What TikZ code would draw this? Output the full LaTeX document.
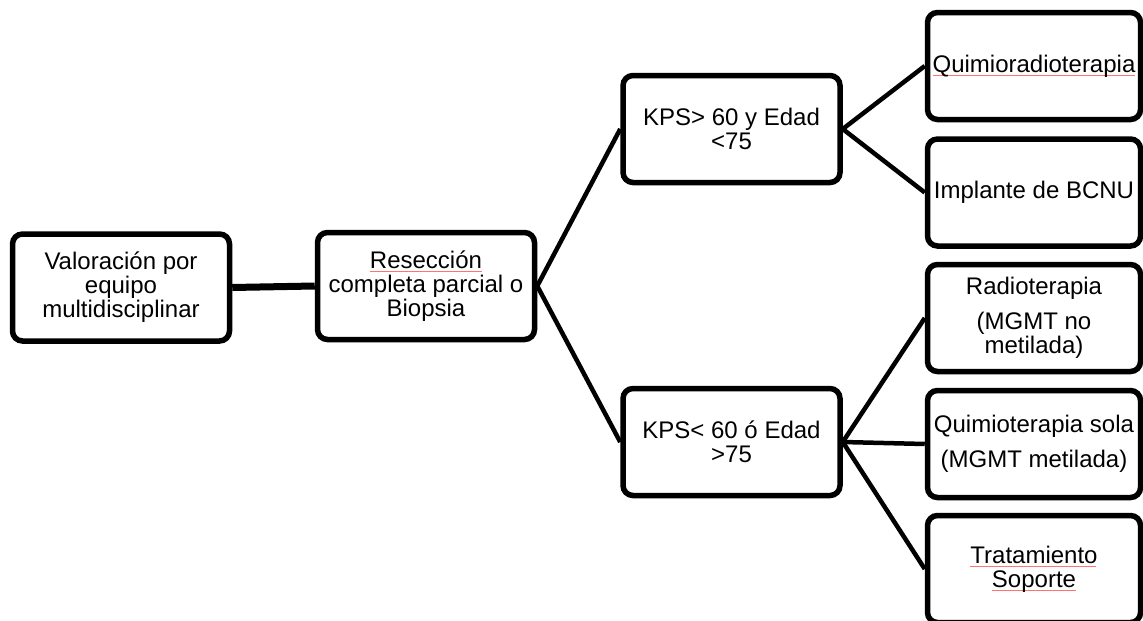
\documentclass[tikz,border=0pt]{standalone}
\usepackage{fontspec}
\setmainfont{Liberation Sans}
\usepackage{xcolor}
\definecolor{spellred}{rgb}{1,0.45,0.45}

% faint red dotted wave beneath a word (spell-check mark)
\newcommand\spellmark[1]{%
  \setbox0\hbox{#1}%
  \rlap{\color{spellred}\raisebox{-3pt}{\hbox to \wd0{\leaders\hbox to 2pt{\rule[0pt]{0.8pt}{0.5pt}\hskip0.2pt\rule[-0.6pt]{0.8pt}{0.5pt}\hskip0.2pt}\hfil}}}%
  \box0}

\tikzset{
  box/.style={draw=black, line width=5.5pt, rounded corners=10pt, fill=white,
    minimum width=217pt, minimum height=107pt, inner sep=0pt, align=center,
    font=\fontsize{24}{24}\selectfont},
  rbox/.style={box, minimum width=213pt},
  link/.style={draw=black, line width=4.5pt},
}

\begin{document}
\begin{tikzpicture}[x=1pt, y=-1pt]
  \useasboundingbox (0,0) rectangle (1143,621);
  \clip (0,0) rectangle (1143,621);

  % first two stages
  \node[box] (eval) at (121,287.5) {Valoración por\\equipo\\multidisciplinar};
  \node[box] (resec) at (426,286) {\spellmark{Resección}\\completa parcial o\\Biopsia};

  % patient condition
  \node[box] (good) at (731.5,129) {KPS> 60 y Edad\\<75};
  \node[box] (poor) at (731.5,442) {KPS< 60 ó Edad\\>75};

  % treatments
  \node[rbox] (qrt) at (1034,66) {\spellmark{Quimioradioterapia}};
  \node[rbox] (bcnu) at (1034,192.5) {Implante de BCNU};
  \node[rbox] (rt) at (1034,318) {Radioterapia\\[11pt](MGMT no\\metilada)};
  \node[rbox] (qt) at (1034,444) {Quimioterapia sola\\[11pt](MGMT metilada)};
  \node[rbox] (sup) at (1034,569) {\spellmark{Tratamiento}\\\spellmark{Soporte}};

  % connectors
  \draw[link, line width=7pt] (eval.east) -- (resec.west);
  \draw[link] (resec.east) -- (good.west);
  \draw[link] (resec.east) -- (poor.west);
  \draw[link] (good.east) -- (qrt.west);
  \draw[link] (good.east) -- (bcnu.west);
  \draw[link] (poor.east) -- (rt.west);
  \draw[link] (poor.east) -- (qt.west);
  \draw[link] (poor.east) -- (sup.west);
\end{tikzpicture}
\end{document}
